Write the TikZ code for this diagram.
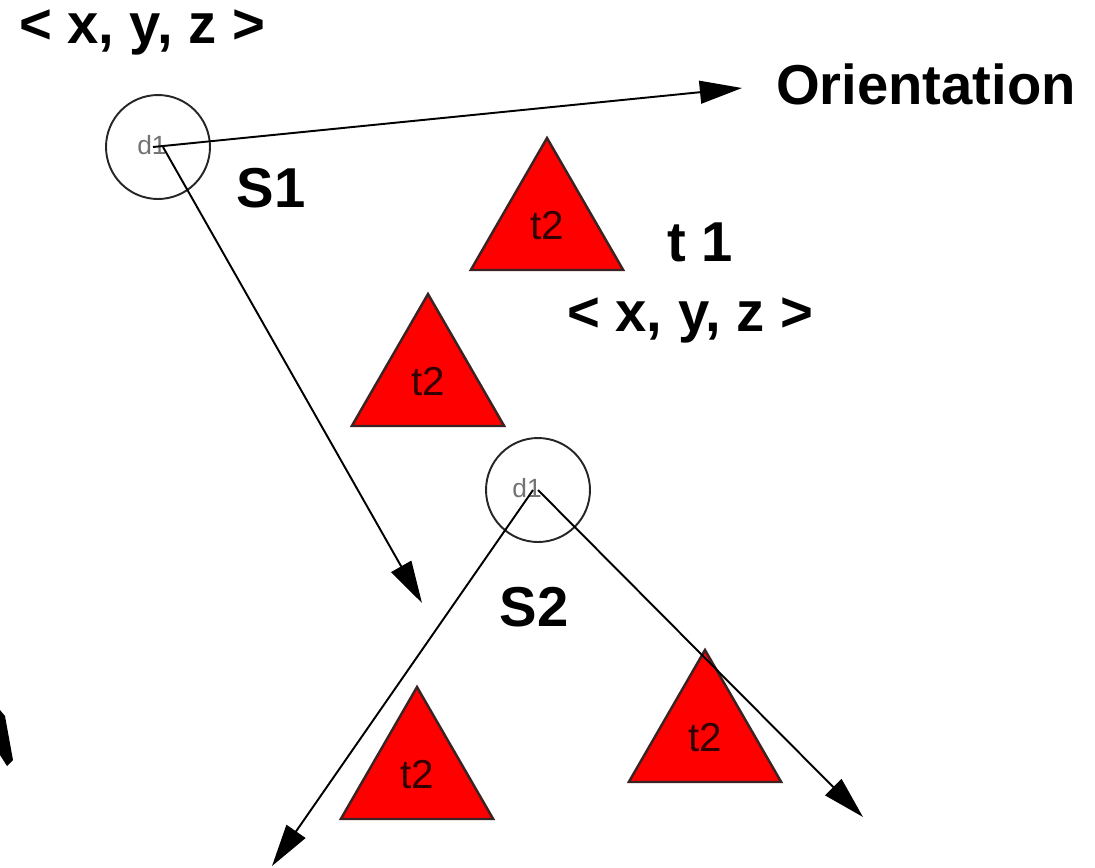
\documentclass[tikz,border=0pt]{standalone}
\usepackage{fontspec}
\setmainfont{Liberation Sans}
\usetikzlibrary{arrows.meta,shapes.geometric}
\definecolor{triedge}{RGB}{60,35,35}
\definecolor{tritext}{RGB}{50,0,0}
\tikzset{
  lbl/.style={font=\fontsize{32}{38}\selectfont\bfseries, inner sep=0pt},
  tri/.style={regular polygon, regular polygon sides=3, minimum size=3.52cm,
    fill=red, draw=triedge, line width=1.4pt, inner sep=0pt, outer sep=0pt,
    text=tritext, font=\fontsize{23}{26}\selectfont},
  site/.style={circle, draw=black!85, line width=1.1pt, minimum size=2.08cm, inner sep=0pt,
    font=\fontsize{15}{16}\selectfont, text=black!55},
  conn/.style={line width=1.1pt, -{Triangle[length=24pt,width=13pt]}},
}
\begin{document}
\begin{tikzpicture}[x=0.02cm,y=-0.02cm]
\useasboundingbox (0,0) rectangle (1095,867);
% labels
\node[lbl] (xyz1) at (142,32) {< x, y, z >};
\node[lbl] (orient) at (926,84) {Orientation};
\node[lbl] (s1) at (271,188) {S1};
\node[lbl] (t1) at (700,242) {t 1};
\node[lbl] (xyz2) at (690,320) {< x, y, z >};
\node[lbl] (s2) at (534,607) {S2};
% triangles
\node[tri] (ta) at (547,226) {t2};
\node[tri] (tb) at (428,382) {t2};
\node[tri] (tc) at (417,775) {t2};
\node[tri] (td) at (705,738) {t2};
% sites
\node[site] (c1) at (158,147) {};
\node[site] (c2) at (538,490) {};
\node[font=\fontsize{15}{16}\selectfont, text=black!55, inner sep=0pt] (d1a) at (152,145) {d1};
\node[font=\fontsize{15}{16}\selectfont, text=black!55, inner sep=0pt] (d1b) at (527,488) {d1};
% arrow end points
\coordinate (e1) at (742,88);
\coordinate (e2) at (422,603);
\coordinate (e3) at (272,866);
\coordinate (e4) at (863,817);
\draw[conn] ([xshift=-0.1cm]c1.center) -- (e1);
\draw[conn] ([xshift=0.1cm]c1.center) -- (e2);
\draw[conn] ([xshift=-0.1cm]c2.center) -- (e3);
\draw[conn] (c2.center) -- (e4);
% partial arrowhead at left edge
\fill[black] (0,710) -- (5,716) -- (13,760) -- (7,766) -- (0,755) -- cycle;
\end{tikzpicture}
\end{document}
